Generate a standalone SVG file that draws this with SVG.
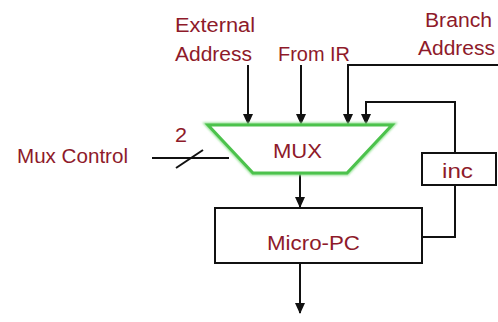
<svg xmlns="http://www.w3.org/2000/svg" width="498" height="322" viewBox="0 0 498 322">
<defs>
<marker id="ah" markerWidth="11" markerHeight="11" refX="10" refY="5.5" orient="auto" markerUnits="userSpaceOnUse">
<path d="M0,0.5 L11,5.5 L0,10.5 Z" fill="#111"/>
</marker>
<filter id="glow" x="-10%" y="-20%" width="120%" height="140%">
<feGaussianBlur stdDeviation="1.2"/>
</filter>
<style>
.t{font-family:"Liberation Sans",Arial,sans-serif;font-size:20px;fill:#8e1a2a;}
.w{fill:none;stroke:#111;stroke-width:2;}
.b{fill:#fff;stroke:#111;stroke-width:2;}
</style>
</defs>
<rect width="498" height="322" fill="#fff"/>
<g id="connectors">
<path class="w" d="M248,65 V124" marker-end="url(#ah)"/>
<path class="w" d="M301,65 V124" marker-end="url(#ah)"/>
<path class="w" d="M498,65 H348 V124" marker-end="url(#ah)"/>
<path class="w" d="M455,153 V102 H366 V124" marker-end="url(#ah)"/>
<path class="w" d="M300,173 V207" marker-end="url(#ah)"/>
<path class="w" d="M300,263 V313" marker-end="url(#ah)"/>
<path class="w" d="M422,237 H455 V185"/>
<path class="w" d="M152,158 H229"/>
<path class="w" d="M176,168 L203,150"/>
<text class="t" x="175" y="142" textLength="12" lengthAdjust="spacingAndGlyphs">2</text>
</g>
<g id="external">
<text class="t" x="175" y="32" textLength="80" lengthAdjust="spacingAndGlyphs">External</text>
<text class="t" x="175" y="61" textLength="77" lengthAdjust="spacingAndGlyphs">Address</text>
</g>
<g id="fromir">
<text class="t" x="278" y="61" textLength="72" lengthAdjust="spacingAndGlyphs">From IR</text>
</g>
<g id="branch">
<text class="t" x="425" y="27" textLength="67" lengthAdjust="spacingAndGlyphs">Branch</text>
<text class="t" x="418" y="55" textLength="77" lengthAdjust="spacingAndGlyphs">Address</text>
</g>
<g id="muxcontrol">
<text class="t" x="17" y="163" textLength="111" lengthAdjust="spacingAndGlyphs">Mux Control</text>
</g>
<g id="mux">
<path d="M208,125 H392 L347,173 H253 Z" fill="none" stroke="#8fe08f" stroke-width="5" filter="url(#glow)"/>
<path d="M208,125 H392 L347,173 H253 Z" fill="#fff" stroke="#4cc24c" stroke-width="3"/>
<text class="t" x="273" y="158" textLength="49" lengthAdjust="spacingAndGlyphs">MUX</text>
</g>
<g id="micropc">
<rect class="b" x="215" y="208" width="207" height="55"/>
<text class="t" x="267" y="250" textLength="93" lengthAdjust="spacingAndGlyphs">Micro-PC</text>
</g>
<g id="inc">
<rect class="b" x="422" y="153" width="74" height="32"/>
<text class="t" x="442" y="178" textLength="31" lengthAdjust="spacingAndGlyphs">inc</text>
</g>
</svg>
